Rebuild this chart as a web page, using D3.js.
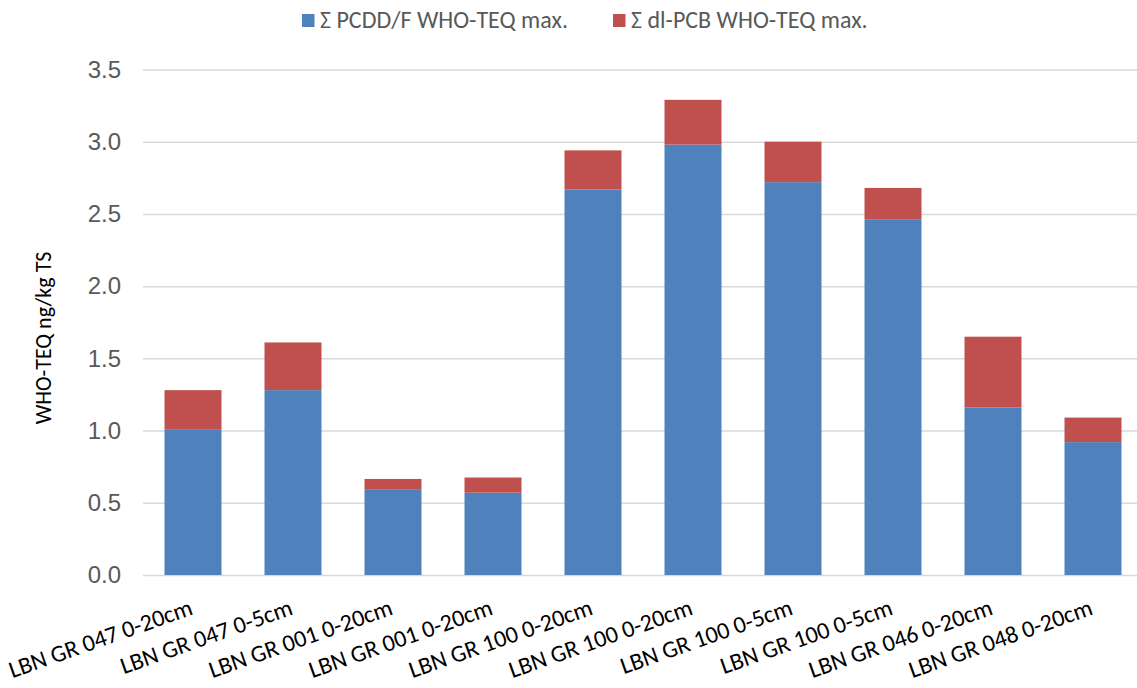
<!DOCTYPE html>
<html>
<head>
<meta charset="utf-8">
<script src="https://cdn.jsdelivr.net/npm/d3@7"></script>
<style>
  html, body { margin: 0; padding: 0; background: #fff; }
  svg { display: block; font-family: Carlito, Calibri, "Open Sans", sans-serif; }
</style>
</head>
<body>
<svg id="chart" width="1137" height="688"></svg>
<script>
// Sample sites (x axis)
const categories = [
  "LBN GR 047 0-20cm", "LBN GR 047 0-5cm", "LBN GR 001 0-20cm", "LBN GR 001 0-20cm",
  "LBN GR 100 0-20cm", "LBN GR 100 0-20cm", "LBN GR 100 0-5cm", "LBN GR 100 0-5cm",
  "LBN GR 046 0-20cm", "LBN GR 048 0-20cm"
];
// Stacked series, ng/kg TS
const pcddf = [1.01, 1.28, 0.59, 0.57, 2.67, 2.98, 2.72, 2.46, 1.16, 0.92];
const dlpcb = [0.27, 0.33, 0.075, 0.105, 0.27, 0.31, 0.28, 0.22, 0.49, 0.17];
const seriesNames = ["Σ PCDD/F WHO-TEQ max.", "Σ dl-PCB WHO-TEQ max."];
const seriesColors = ["#4F81BD", "#C0504D"];
const yTicks = [0, 0.5, 1, 1.5, 2, 2.5, 3, 3.5];
const yTitle = "WHO-TEQ ng/kg TS";

const svg = d3.select("#chart");

const x = d3.scaleBand().domain(d3.range(categories.length)).range([143, 1143]).paddingInner(0.43).paddingOuter(0.215);
const y = d3.scaleLinear().domain([0, 3.5]).range([575, 69.5]);

// gridlines
svg.append("g")
  .attr("transform", "translate(143,0)")
  .call(d3.axisLeft(y).tickValues(yTicks).tickSize(-1000).tickFormat(""))
  .call(g => g.select(".domain").remove())
  .call(g => g.selectAll("line").attr("stroke", "#d9d9d9").attr("stroke-width", 1.5));

// y tick labels
svg.append("g")
  .attr("transform", "translate(121,0)")
  .call(d3.axisLeft(y).tickValues(yTicks).tickSize(0).tickPadding(0).tickFormat(d3.format(".1f")))
  .call(g => g.select(".domain").remove())
  .call(g => g.selectAll("text").attr("fill", "#595959").attr("font-size", 24).attr("font-family", null));

// stacked bars
const rows = categories.map((c, i) => ({ i, a: pcddf[i], b: dlpcb[i] }));
const stack = d3.stack().keys(["a", "b"])(rows);
svg.append("g").selectAll("g").data(stack).join("g")
  .attr("fill", (d, k) => seriesColors[k])
  .selectAll("rect").data(d => d).join("rect")
  .attr("x", d => x(d.data.i))
  .attr("width", x.bandwidth())
  .attr("y", d => y(d[1]))
  .attr("height", d => y(d[0]) - y(d[1]));

// x labels, rotated
svg.append("g").selectAll("text").data(categories).join("text")
  .attr("text-anchor", "end")
  .attr("font-size", 24)
  .attr("fill", "#000")
  .attr("transform", (d, i) => `translate(${x(i) + x.bandwidth() / 2 + 1},614) rotate(-19.5)`)
  .text(d => d);

// y axis title
svg.append("text")
  .attr("transform", "translate(51,338) rotate(-90)")
  .attr("text-anchor", "middle")
  .attr("font-size", 22)
  .attr("fill", "#000")
  .text(yTitle);

// legend
const legendX = [302, 613];
const lg = svg.append("g");
seriesNames.forEach((name, k) => {
  lg.append("rect").attr("x", legendX[k]).attr("y", 14).attr("width", 12.5).attr("height", 13).attr("fill", seriesColors[k]);
  lg.append("text").attr("x", legendX[k] + 18).attr("y", 28).attr("font-size", 24).attr("fill", "#595959").text(name);
});
</script>
</body>
</html>
